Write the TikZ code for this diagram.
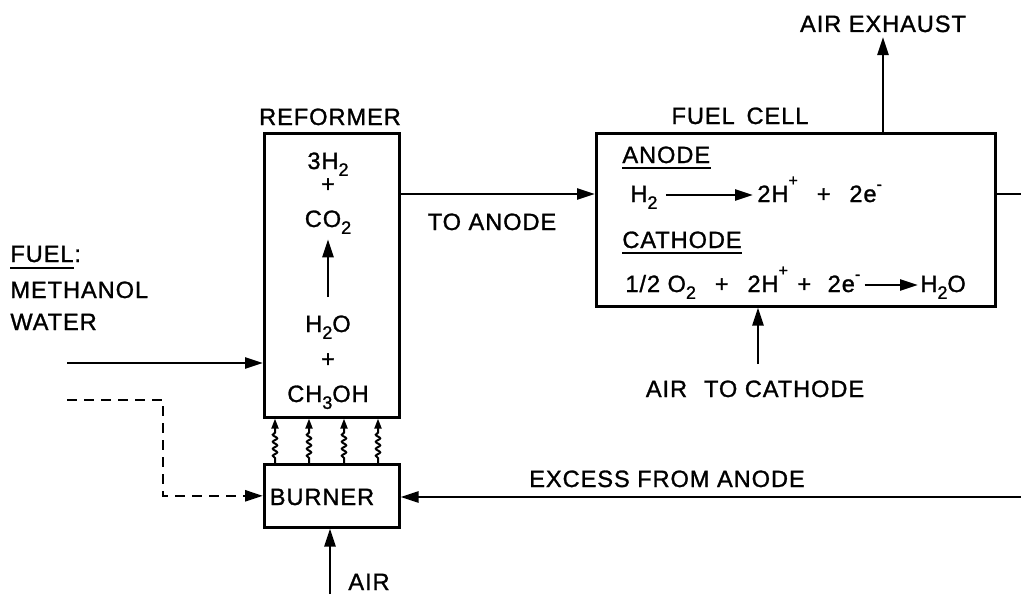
\documentclass[tikz,border=0pt]{standalone}
\usepackage{fontspec}
\setmainfont{Liberation Sans}[LetterSpace=4,FakeBold=1.2]
\usetikzlibrary{arrows.meta,decorations.pathmorphing,calc}
\newcommand\dn[1]{\raisebox{-0.55ex}{\fontsize{9}{10}\selectfont #1}}
\newcommand\supp[1]{\raisebox{1.3ex}{\fontsize{8}{9}\selectfont #1}}
\newcommand\supm[1]{\raisebox{1.0ex}{\fontsize{8}{9}\selectfont #1}}
\begin{document}
\begin{tikzpicture}[x=0.5pt,y=-0.5pt,
  ln/.style={line width=1.3pt},
  arr/.style={ln,-{Triangle[length=9pt,width=5.5pt]}},
  warr/.style={line width=1pt,-{Triangle[length=5pt,width=3.5pt]},decorate,
    decoration={snake,amplitude=1.1pt,segment length=3.5pt,pre length=2.5pt,post length=6pt}},
  box/.style={draw,line width=1.3pt,inner sep=0pt,anchor=north west},
  txt/.style={inner sep=0pt,anchor=base,font=\fontsize{11.8}{13}\selectfont},
  txtw/.style={txt,anchor=base west},
  eq/.style={txtw,text height=9pt,text depth=2pt},
  ul/.style={line width=1.1pt}
]
\useasboundingbox (0,0) rectangle (1021,594);
\fill[white] (0,0) rectangle (1021,594);

% boxes
\node[box,minimum width=67.5pt,minimum height=142pt] (ref) at (263,132) {};
\node[box,minimum width=199.5pt,minimum height=86.5pt] (fc) at (595,132) {};
\node[box,minimum width=67.5pt,minimum height=31.5pt] (bur) at (263,463) {};

% labels
\node[txt] (airex) at (883,32) {AIR EXHAUST};
\node[txt] (refl) at (330,125) {REFORMER};
\node[txt] (fcl) at (740,124) {FUEL\hspace{0.5em}CELL};

% reformer contents
\node[txt] (h3) at (328,169) {3H\dn{2}};
\node[txt] (pl1) at (328,192) {+};
\node[txt] (co2) at (328,227) {CO\dn{2}};
\node[txt] (h2o) at (328,332) {H\dn{2}O};
\node[txt] (pl2) at (328,367) {+};
\node[txt] (meoh) at (328,402) {CH\dn{3}OH};
\draw[arr] ([yshift=9pt]h2o.north) -- ([yshift=-2.5pt]co2.south);

% fuel cell contents
\node[txtw] (anode) at (622,163) {ANODE};
\draw[ul] ([yshift=-2.5pt]anode.base west) -- ([yshift=-2.5pt]anode.base east);
\node[eq] (fh2) at (630,202) {H\dn{2}};
\node[eq] (fprod) at (757,202) {2H\supp{+}\hspace{0.8em}+\hspace{0.8em}2e\supm{-}};
\draw[arr,shorten <=4pt,shorten >=2pt] (fh2.east) -- (fprod.west);
\node[txtw] (cathode) at (622,248) {CATHODE};
\draw[ul] ([yshift=-2.5pt]cathode.base west) -- ([yshift=-2.5pt]cathode.base east);
\node[eq] (crea) at (625,292) {1/2 O\dn{2}\hspace{0.8em}+\hspace{0.8em}2H\supp{+}\hspace{0.4em}+\hspace{0.7em}2e\supm{-}};
\node[eq] (ch2o) at (920,292) {H\dn{2}O};
\draw[arr,shorten <=2pt,shorten >=1pt] (crea.east) -- (ch2o.west);

% left labels
\node[txtw] (fuel) at (10,262) {FUEL};
\node[txtw] (colon) at (fuel.base east) {:};
\draw[ul] ([yshift=-3pt]fuel.base west) -- ([yshift=-3pt]fuel.base east);
\node[txtw] (meth) at (10,298) {METHANOL};
\node[txtw] (water) at (10,330) {WATER};

\node[txt] (toan) at (492,230) {TO ANODE};
\node[txt] (atc) at (755,397) {AIR\hspace{0.4em} TO CATHODE};
\node[txt] (exc) at (667,487) {EXCESS FROM ANODE};
\node[txt] (burl) at (322,505) {BURNER};
\node[txt] (airl) at (369,590) {AIR};

% connector end points
\coordinate (fuelS) at (67,363);
\coordinate (dashS) at (67,400);
\coordinate (dashK) at (163,400);
\coordinate (outR) at (1021,194);
\coordinate (excR) at (1021,497);
\coordinate (airS) at (330,594);
\coordinate (acS) at (758,364);
\coordinate (exT) at (883,37);
\coordinate (lnY) at (0,194);

% connectors
\draw[arr] (ref.east |- lnY) -- (fc.west |- lnY);
\draw[ln] (fc.east |- outR) -- (outR);
\draw[arr] (excR) -- (bur.east |- excR);
\draw[arr] (fuelS) -- (ref.west |- fuelS);
\draw[arr,dash pattern=on 5pt off 3.5pt] (dashS) -- (dashK) |- (bur.west);
\draw[arr] (airS) -- (airS |- bur.south);
\draw[arr] (acS) -- (acS |- fc.south);
\draw[arr] (exT |- fc.north) -- (exT);

% heat from burner to reformer
\foreach \x in {275,309,344,378}
  \draw[warr] (\x,0 |- bur.north) -- (\x,0 |- ref.south);
\end{tikzpicture}
\end{document}
